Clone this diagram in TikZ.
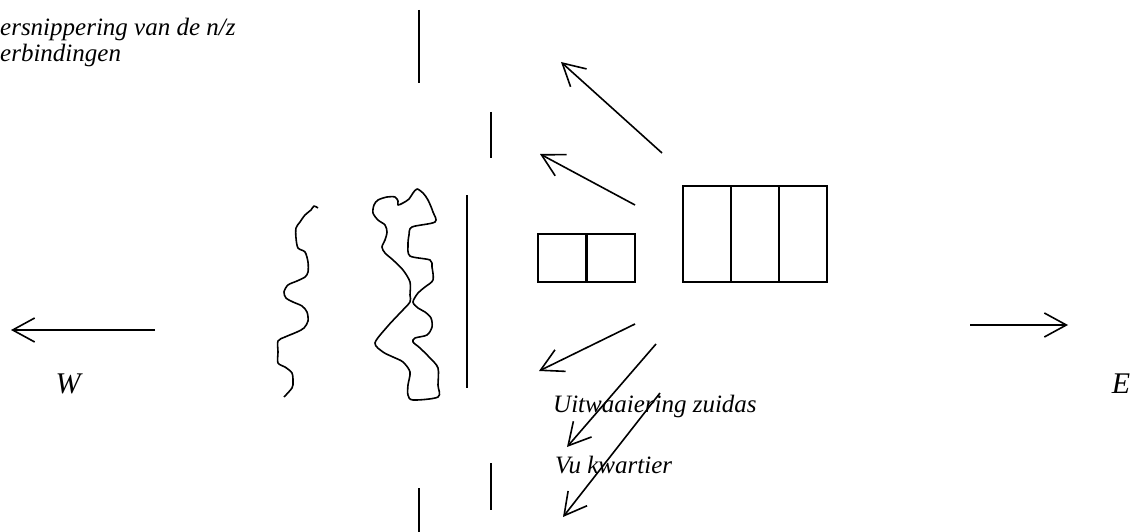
\documentclass[tikz,border=0pt]{standalone}
\usepackage{fontspec}
\setmainfont{Liberation Serif}
\usetikzlibrary{arrows.meta}
\begin{document}
\begin{tikzpicture}[x=1pt,y=-1pt,
  ln/.style={line width=1.6pt,black},
  arr/.style={ln,-{Straight Barb[length=22pt,width=24pt,line width=1.6pt]}},
  lbl/.style={font=\fontsize{25}{30}\selectfont\itshape,inner sep=0pt,anchor=base west},
  big/.style={font=\fontsize{30}{36}\selectfont\itshape,inner sep=0pt,anchor=base},
  box/.style={draw,line width=1.6pt,minimum width=48pt,minimum height=48pt,inner sep=0pt,outer sep=0pt},
  tall/.style={draw,line width=1.6pt,minimum width=48pt,minimum height=96pt,inner sep=0pt,outer sep=0pt}]
\useasboundingbox (0,0) rectangle (1138,532);
% texts
\node[lbl] (t1) at (0,36) {ersnippering van de n/z};
\node[lbl] (t2) at (0,62) {erbindingen};
\node[lbl] (tu) at (553,412) {Uitwaaiering zuidas};
\node[lbl] (tv) at (555,473) {Vu kwartier};
\node[big] (tw) at (68,393) {W};
\node[big] (te) at (1121,393) {E};
% vertical bars
\coordinate (v1a) at (419,10);  \coordinate (v1b) at (419,83);
\coordinate (v2a) at (491,112); \coordinate (v2b) at (491,158);
\coordinate (v3a) at (467,195); \coordinate (v3b) at (467,388);
\coordinate (v4a) at (491,463); \coordinate (v4b) at (491,510);
\coordinate (v5a) at (419,488); \coordinate (v5b) at (419,532);
\draw[ln] (v1a) -- (v1b);
\draw[ln] (v2a) -- (v2b);
\draw[ln] (v3a) -- (v3b);
\draw[ln] (v4a) -- (v4b);
\draw[ln] (v5a) -- (v5b);
% boxes
\node[box] (s1) at (562,258) {};
\node[box] (s2) at (611,258) {};
\node[tall] (b1) at (707,234) {};
\node[tall] (b2) at (755,234) {};
\node[tall] (b3) at (803,234) {};
% arrows
\coordinate (a1s) at (662,153); \coordinate (a1e) at (561,62);
\coordinate (a2s) at (635,205); \coordinate (a2e) at (540,154);
\coordinate (a3s) at (635,324); \coordinate (a3e) at (539,371);
\coordinate (a4s) at (656,344); \coordinate (a4e) at (567,447);
\coordinate (a5s) at (660,393); \coordinate (a5e) at (563,517);
\coordinate (ws) at (155,330); \coordinate (we) at (11,330);
\coordinate (es) at (970,325); \coordinate (ee) at (1068,325);
\draw[arr] (a1s) -- (a1e);
\draw[arr] (a2s) -- (a2e);
\draw[arr] (a3s) -- (a3e);
\draw[arr] (a4s) -- (a4e);
\draw[arr] (a5s) -- (a5e);
\draw[arr] (ws) -- (we);
\draw[arr] (es) -- (ee);
% squiggles
\draw[ln,line join=round] plot[smooth,tension=0.5] coordinates {
(318,208) (314,206) (311,210) (305,215) (300,222) (296,228) (296,238) (298,248)
(305,252) (308,262) (308,272) (305,277) (297,281) (288,285) (284,292) (286,298)
(293,302) (302,306) (307,312) (308,321) (304,328) (297,332) (285,337) (278,341)
(278,352) (278,363) (285,367) (292,373) (293,382) (292,388) (284,397)};
\draw[ln,line join=round] plot[smooth cycle,tension=0.5] coordinates {
(374,205) (378,200) (387,197) (395,197) (398,201) (398,205) (403,203) (409,199)
(413,193) (417,189) (423,193) (428,200) (433,212) (435,222) (412,227) (409,235)
(408,245) (410,256) (430,260) (432,267) (433,280) (425,287) (418,293) (413,302)
(418,308) (425,312) (431,318) (432,327) (427,335) (415,338) (413,342) (420,348)
(430,358) (438,368) (438,385) (438,397) (413,400) (408,395) (408,385) (410,372)
(403,362) (393,357) (383,352) (375,343) (387,327) (400,313) (410,302) (410,295)
(410,282) (403,270) (393,260) (385,253) (382,247) (385,240) (387,232) (385,225)
(378,220) (373,213)};
\end{tikzpicture}
\end{document}
